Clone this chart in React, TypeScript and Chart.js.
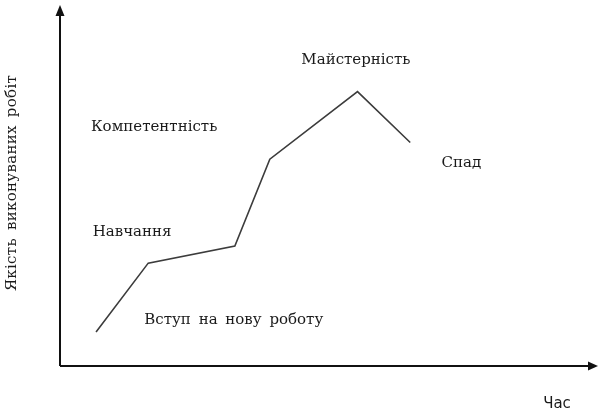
import React, { useEffect, useRef } from "react";
import { Chart, registerables } from "chart.js";

Chart.register(...registerables);

// Curve of work quality over time (abstract units 0..100)
const timeValues = [6.7, 16.4, 32.5, 39.0, 55.3, 65.1];
const qualityValues = [9.4, 28.5, 33.2, 57.3, 76.0, 61.9];

// Stage labels and their anchor points (same abstract units)
const stageLabels = ["Майстерність", "Компетентність", "Навчання", "Вступ на нову роботу", "Спад"];
const stageX = [55.0, 17.5, 13.4, 32.3, 74.6];
const stageY = [84.6, 66.2, 37.2, 12.6, 56.2];

const xAxisTitle = "Час";
const yAxisTitle = "Якість виконуваних робіт";

export default function App() {
  const ref = useRef<HTMLCanvasElement | null>(null);

  useEffect(() => {
    document.body.style.margin = "0";
    const canvas = ref.current;
    if (!canvas) return;

    const axesPlugin = {
      id: "axesArrows",
      afterDraw(chart: any) {
        const { ctx, chartArea, scales } = chart;
        const xs = scales.x;
        const ys = scales.y;
        ctx.save();
        ctx.strokeStyle = "#111";
        ctx.fillStyle = "#111";
        ctx.lineWidth = 2;
        const ox = chartArea.left;
        const oy = chartArea.bottom;
        ctx.beginPath();
        ctx.moveTo(ox, oy);
        ctx.lineTo(ox, chartArea.top + 8);
        ctx.moveTo(ox, oy);
        ctx.lineTo(chartArea.right - 8, oy);
        ctx.stroke();
        ctx.beginPath();
        ctx.moveTo(ox, chartArea.top);
        ctx.lineTo(ox - 4.5, chartArea.top + 11);
        ctx.lineTo(ox + 4.5, chartArea.top + 11);
        ctx.closePath();
        ctx.fill();
        ctx.beginPath();
        ctx.moveTo(chartArea.right, oy);
        ctx.lineTo(chartArea.right - 10, oy - 4.5);
        ctx.lineTo(chartArea.right - 10, oy + 4.5);
        ctx.closePath();
        ctx.fill();

        ctx.fillStyle = "#1a1a1a";
        ctx.textAlign = "center";
        ctx.textBaseline = "middle";
        ctx.font = '15px "DejaVu Serif", serif';
        ctx.wordSpacing = "3px";
        for (let i = 0; i < stageLabels.length; i++) {
          ctx.fillText(stageLabels[i], xs.getPixelForValue(stageX[i]), ys.getPixelForValue(stageY[i]));
        }
        ctx.wordSpacing = "0px";
        ctx.font = '15px "DejaVu Sans", sans-serif';
        ctx.fillText(xAxisTitle, chartArea.right - 41, oy + 38);
        ctx.font = '15px "DejaVu Serif", serif';
        ctx.wordSpacing = "3px";
        ctx.letterSpacing = "0.3px";
        ctx.translate(12, 183);
        ctx.rotate(-Math.PI / 2);
        ctx.fillText(yAxisTitle, 0, 0);
        ctx.restore();
      },
    };

    const chart = new Chart(canvas, {
      type: "line",
      data: {
        datasets: [
          {
            data: timeValues.map((x, i) => ({ x, y: qualityValues[i] })),
            borderColor: "#3c3c3c",
            borderWidth: 1.6,
            pointRadius: 0,
            tension: 0,
            fill: false,
            clip: false as any,
          },
        ],
      },
      options: {
        animation: false,
        responsive: true,
        maintainAspectRatio: false,
        layout: { padding: { left: 60, top: 5, right: 0, bottom: 46 } },
        plugins: { legend: { display: false }, tooltip: { enabled: false } },
        scales: {
          x: { type: "linear", min: 0, max: 100, display: false },
          y: { type: "linear", min: 0, max: 100, display: false },
        },
      },
      plugins: [axesPlugin],
    });
    return () => chart.destroy();
  }, []);

  return (
    <div style={{ width: 598, height: 412, position: "relative", background: "#fff" }}>
      <canvas ref={ref} />
    </div>
  );
}
